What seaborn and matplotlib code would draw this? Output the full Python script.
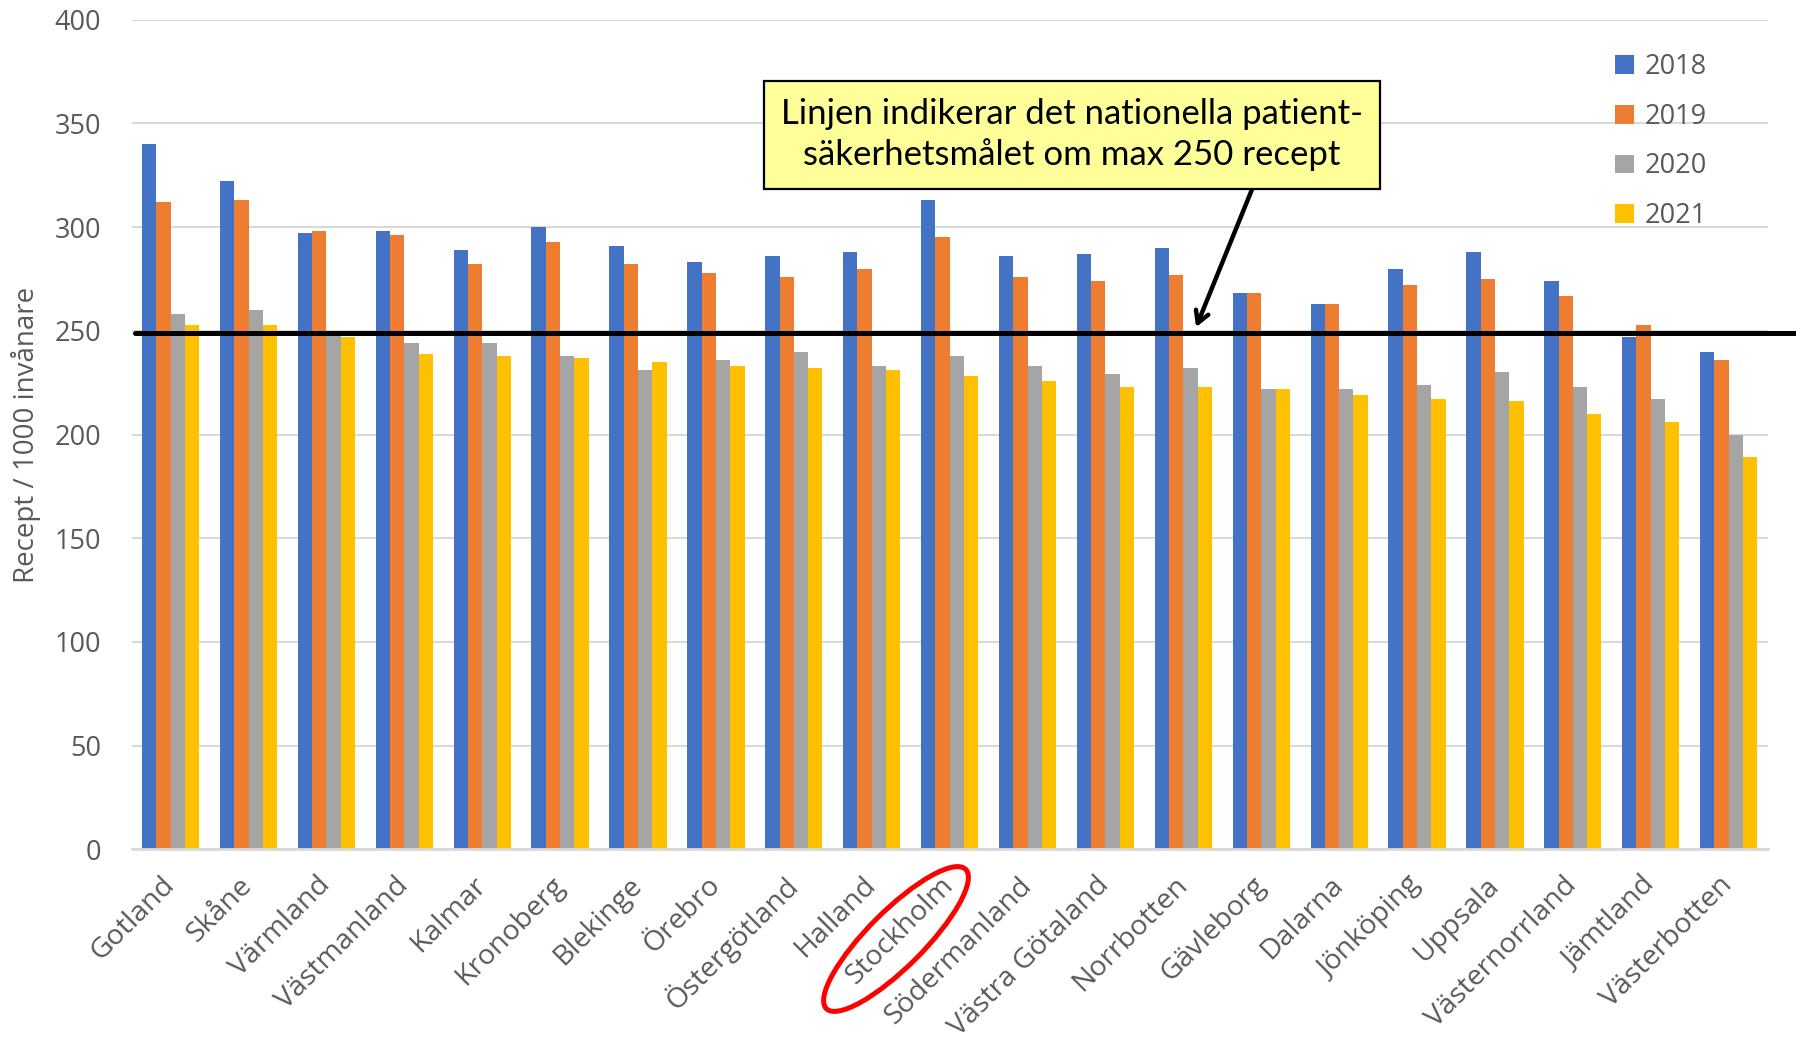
import numpy as np
import pandas as pd
import matplotlib
matplotlib.use("Agg")
import matplotlib.pyplot as plt
import seaborn as sns
from matplotlib.patches import Ellipse

regions = ["Gotland", "Skåne", "Värmland", "Västmanland", "Kalmar", "Kronoberg",
           "Blekinge", "Örebro", "Östergötland", "Halland", "Stockholm",
           "Södermanland", "Västra Götaland", "Norrbotten", "Gävleborg", "Dalarna",
           "Jönköping", "Uppsala", "Västernorrland", "Jämtland", "Västerbotten"]
years = ["2018", "2019", "2020", "2021"]
v2018 = [340, 322, 297, 298, 289, 300, 291, 283, 286, 288, 313, 286, 287, 290, 268, 263, 280, 288, 274, 247, 240]
v2019 = [312, 313, 298, 296, 282, 293, 282, 278, 276, 280, 295, 276, 274, 277, 268, 263, 272, 275, 267, 253, 236]
v2020 = [258, 260, 248, 244, 244, 238, 231, 236, 240, 233, 238, 233, 229, 232, 222, 222, 224, 230, 223, 217, 200]
v2021 = [253, 253, 247, 239, 238, 237, 235, 233, 232, 231, 228, 226, 223, 223, 222, 219, 217, 216, 210, 206, 189]
target = 249
colors = ["#4472C4", "#ED7D31", "#A5A5A5", "#FFC000"]
annot_text = "Linjen indikerar det nationella patient-\nsäkerhetsmålet om max 250 recept"

df = pd.DataFrame({
    "region": regions * 4,
    "year": sum([[y] * len(regions) for y in years], []),
    "value": v2018 + v2019 + v2020 + v2021,
})

sns.set_theme(style="white")
plt.rcParams["font.family"] = ["Open Sans", "DejaVu Sans"]

fig = plt.figure(figsize=(17.96, 10.37), dpi=100)
ax = fig.add_axes([0.0733, 0.181, 0.9109, 0.800])

sns.barplot(data=df, x="region", y="value", hue="year", palette=colors,
            width=0.735, linewidth=0, saturation=1, ax=ax, legend=True)

ax.set_ylim(0, 400)
ax.set_xlim(-0.5, len(regions) - 0.5)
ax.set_yticks(np.arange(0, 401, 50))
ax.yaxis.grid(True, color="#D9D9D9", linewidth=1.5)
ax.set_axisbelow(True)
for s in ["top", "right", "left"]:
    ax.spines[s].set_visible(False)
ax.spines["bottom"].set_color("#D9D9D9")
ax.spines["bottom"].set_linewidth(2)
ax.tick_params(axis="y", length=0, colors="#595959", labelsize=19.5, pad=22)
ax.tick_params(axis="x", length=0, colors="#595959", labelsize=20.5, pad=23)
for lab in ax.get_xticklabels():
    lab.set_rotation(45)
    lab.set_ha("right")
    lab.set_va("center")
    lab.set_rotation_mode("anchor")
ax.set_xlabel("")
ax.set_ylabel("Recept / 1000 invånare", fontsize=20, color="#595959", labelpad=10)

leg = ax.legend(loc="upper left", bbox_to_anchor=(0.8985, 0.976), frameon=False,
                fontsize=19.5, handlelength=0.7, handleheight=0.7,
                handletextpad=0.4, labelspacing=0.8, borderpad=0)
for t in leg.get_texts():
    t.set_color("#595959")

# target line
ax.axhline(target, xmin=0.002, xmax=1.02, color="black", linewidth=3.6,
           clip_on=False, zorder=5)

# annotation box
ax.text(11.57, 344.5, annot_text, ha="center", va="center", fontsize=25,
        color="black", linespacing=1.3, zorder=6, family=["Lato", "DejaVu Sans"],
        bbox=dict(boxstyle="square,pad=0.5", facecolor="#FFFF99",
                  edgecolor="black", linewidth=1.6))
ax.annotate("", xy=(13.15, 250.5), xytext=(13.89, 319),
            arrowprops=dict(arrowstyle="->,head_length=0.7,head_width=0.4",
                            color="black", linewidth=3.2), zorder=6)

# red ellipse around Stockholm
ell = Ellipse((8.96, 10.37 - 9.39), width=1.97, height=0.56, angle=45,
              transform=fig.dpi_scale_trans, fill=False, edgecolor="#FF0000",
              linewidth=3.6)
fig.patches.append(ell)

fig.savefig("out.png", dpi=100)
